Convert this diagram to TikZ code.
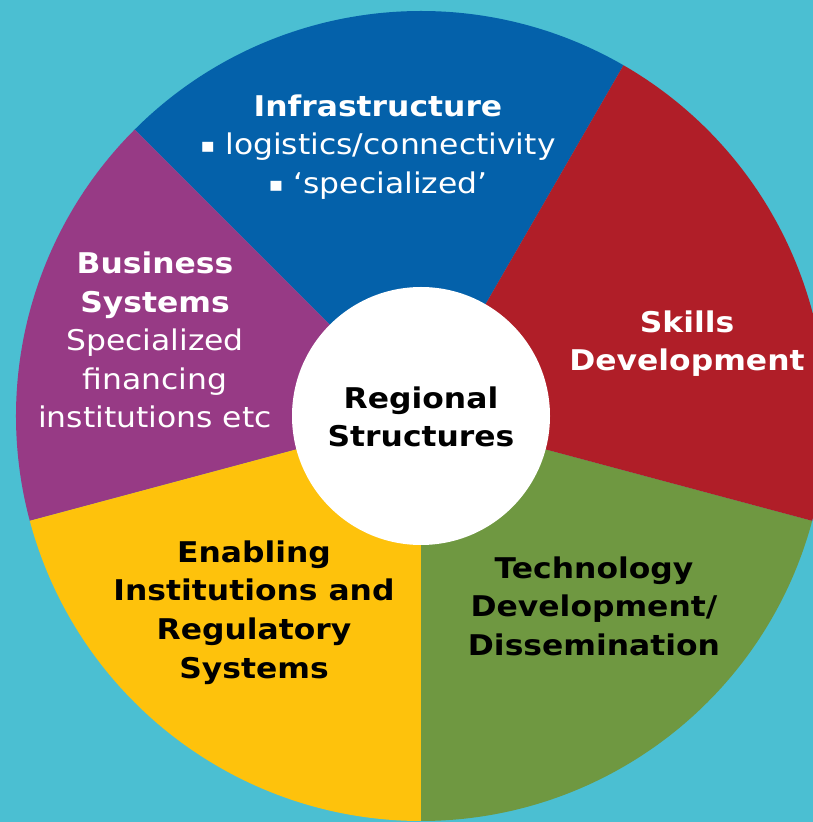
\documentclass[tikz,border=0pt]{standalone}
\usepackage{fontspec}
\setmainfont{DejaVu Sans}[FakeStretch=1.1]
\definecolor{sky}{HTML}{4BBFD2}
\definecolor{infrablue}{HTML}{0461AA}
\definecolor{skillred}{HTML}{B01E28}
\definecolor{techgreen}{HTML}{6F9841}
\definecolor{enableyellow}{HTML}{FEC20C}
\definecolor{bizpurple}{HTML}{973A85}
\newcommand{\sqbullet}{\raisebox{1.5pt}{\fontsize{15}{15}\selectfont▪}}

\begin{document}
\begin{tikzpicture}[x=0.75pt,y=0.75pt,
  seg/.style={inner sep=0pt,align=center,font=\fontsize{21.4}{28.9}\selectfont}]
\useasboundingbox (0,0) rectangle (813,822);
\fill[sky] (0,0) rectangle (813,822);
\clip (0,0) rectangle (813,822);
\fill[infrablue] (421,406) -- ++(60:405) arc[start angle=60,end angle=135,radius=405] -- cycle;
\fill[bizpurple] (421,406) -- ++(135:405) arc[start angle=135,end angle=195,radius=405] -- cycle;
\fill[enableyellow] (421,406) -- ++(195:405) arc[start angle=195,end angle=270,radius=405] -- cycle;
\fill[techgreen] (421,406) -- ++(270:405) arc[start angle=270,end angle=345,radius=405] -- cycle;
\fill[skillred] (421,406) -- ++(345:405) arc[start angle=345,end angle=420,radius=405] -- cycle;

\node[shape=circle,fill=white,minimum size=193.5pt,inner sep=0pt] (0) at (421,406) {};
\node[seg,text=black] (1) at (421,405) {\bfseries Regional\\\bfseries Structures};
\node[seg,text=white] (2) at (378,675) {\bfseries Infrastructure\\\sqbullet\ logistics/connectivity\\\sqbullet\ ‘specialized’};
\node[seg,text=white] (3) at (155,482) {\bfseries Business\\\bfseries Systems\\Specialized\\financing\\institutions etc};
\node[seg,text=white] (4) at (687,478.5) {\bfseries Skills\\\bfseries Development};
\node[seg,text=black] (5) at (254,209.5) {\bfseries Enabling\\\bfseries Institutions and\\\bfseries Regulatory\\\bfseries Systems};
\node[seg,text=black] (6) at (594,216) {\bfseries Technology\\\bfseries Development/\\\bfseries Dissemination};
\end{tikzpicture}
\end{document}
